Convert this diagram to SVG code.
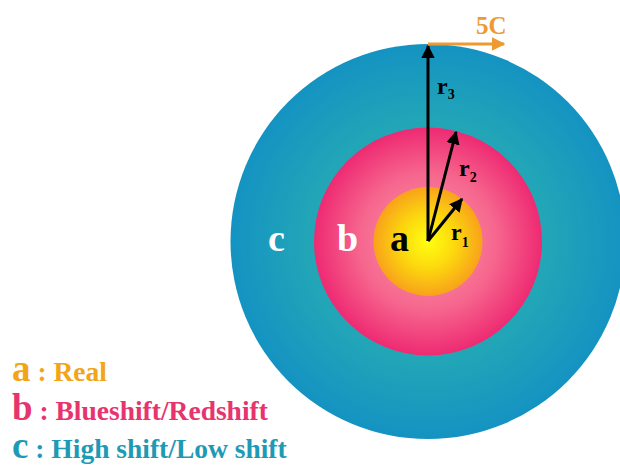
<svg xmlns="http://www.w3.org/2000/svg" width="620" height="466" viewBox="0 0 620 466">
<defs>
<radialGradient id="gc" cx="0.5" cy="0.5" r="0.5">
<stop offset="0" stop-color="#2fb3b2"/>
<stop offset="0.6" stop-color="#22a6b7"/>
<stop offset="1" stop-color="#1493c2"/>
</radialGradient>
<radialGradient id="gb" cx="0.5" cy="0.5" r="0.5">
<stop offset="0" stop-color="#fa9aa8"/>
<stop offset="0.6" stop-color="#f6668e"/>
<stop offset="1" stop-color="#ee2a72"/>
</radialGradient>
<radialGradient id="ga" cx="0.5" cy="0.5" r="0.5">
<stop offset="0" stop-color="#ffff10"/>
<stop offset="0.5" stop-color="#fcd80e"/>
<stop offset="1" stop-color="#f8a21a"/>
</radialGradient>
<marker id="ak" viewBox="0 0 10 10" refX="9" refY="5" markerWidth="4.5" markerHeight="4.5" orient="auto" markerUnits="strokeWidth">
<path d="M0,0 L10,5 L0,10 z" fill="#000"/>
</marker>
<marker id="ao" viewBox="0 0 10 10" refX="9" refY="5" markerWidth="4.5" markerHeight="4.5" orient="auto" markerUnits="strokeWidth">
<path d="M0,0 L10,5 L0,10 z" fill="#ee9a30"/>
</marker>
</defs>
<style>
.t{font-family:"Liberation Serif","Times New Roman",serif;font-weight:bold}
.big{font-size:38px}
.leg{font-size:27.5px}
.ll{font-size:37px}
.sub{font-size:14px}
.lab{font-size:24px;fill:#000}
</style>
<rect width="620" height="466" fill="#fff"/>
<g id="circle-c"><circle cx="428" cy="241.5" r="197.5" fill="url(#gc)"/></g>
<g id="circle-b"><circle cx="428" cy="241.5" r="114" fill="url(#gb)"/></g>
<g id="circle-a"><circle cx="428" cy="241.5" r="54.5" fill="url(#ga)"/></g>
<g id="connectors" fill="none" stroke-width="3">
<line x1="428" y1="241" x2="428" y2="46" stroke="#000" marker-end="url(#ak)"/>
<line x1="428" y1="241" x2="456" y2="132" stroke="#000" marker-end="url(#ak)"/>
<line x1="428" y1="241" x2="462" y2="199" stroke="#000" marker-end="url(#ak)"/>
<line x1="428" y1="44" x2="504" y2="44" stroke="#ee9a30" marker-end="url(#ao)"/>
</g>
<g id="labels">
<text class="t" x="476" y="34" font-size="25" fill="#ee9a30">5C</text>
<text class="t lab" x="437" y="94">r<tspan class="sub" dy="5">3</tspan></text>
<text class="t lab" x="459" y="176">r<tspan class="sub" dy="6">2</tspan></text>
<text class="t lab" x="451" y="240">r<tspan class="sub" dy="7">1</tspan></text>
<text class="t big" x="268" y="251" fill="#fff">c</text>
<text class="t big" x="337" y="251" fill="#fff">b</text>
<text class="t big" x="390" y="251" fill="#000">a</text>
</g>
<g id="legend">
<text class="t" x="12" y="381" fill="#f2a516"><tspan class="ll">a</tspan><tspan class="leg"> : Real</tspan></text>
<text class="t" x="12" y="420" fill="#e8346e"><tspan class="ll">b</tspan><tspan class="leg"> : Blueshift/Redshift</tspan></text>
<text class="t" x="12" y="458" fill="#1e9ab5"><tspan class="ll">c</tspan><tspan class="leg"> : High shift/Low shift</tspan></text>
</g>
</svg>
